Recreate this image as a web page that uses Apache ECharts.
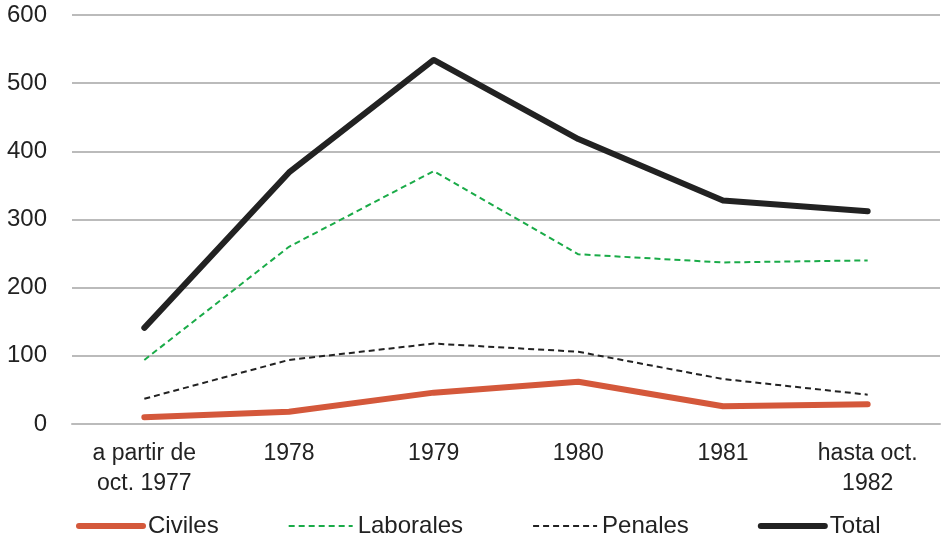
<!DOCTYPE html>
<html><head><meta charset="utf-8">
<script src="https://cdn.jsdelivr.net/npm/echarts@6/dist/echarts.min.js"></script>
<style>html,body{margin:0;padding:0;background:#fff}#c{width:941px;height:539px}</style>
</head><body><div id="c"></div>
<script>
const categories = ['a partir de\noct. 1977', '1978', '1979', '1980', '1981', 'hasta oct.\n1982'];
const civiles = [10, 18, 46, 62, 26, 29];
const laborales = [94, 260, 371, 249, 237, 240];
const penales = [37, 94, 118, 106, 66, 43];
const total = [141, 369, 534, 418, 328, 312];
const yTicks = [0, 100, 200, 300, 400, 500, 600];

const font = 'Liberation Sans, Arial, sans-serif';
const chart = echarts.init(document.getElementById('c'));
chart.setOption({
  animation: false,
  textStyle: { fontFamily: font },
  grid: { left: 72, right: 1, top: 15, bottom: 115 },
  legend: {
    bottom: -4, left: 71,
    itemWidth: 64, itemHeight: 14, itemGap: 69,
    itemStyle: { opacity: 0 },
    textStyle: { fontSize: 24, color: '#222', fontFamily: font },
    data: [
      { name: 'Civiles', lineStyle: { width: 6 } },
      { name: 'Laborales', lineStyle: { width: 2 } },
      { name: 'Penales', lineStyle: { width: 2 } },
      { name: 'Total', lineStyle: { width: 6 } }
    ]
  },
  xAxis: {
    type: 'category', data: categories, boundaryGap: true,
    axisLine: { show: true, lineStyle: { color: '#bbb', width: 2 } },
    axisTick: { show: false },
    axisLabel: { fontSize: 23, color: '#222', margin: 15, lineHeight: 30, interval: 0 }
  },
  yAxis: {
    type: 'value', min: yTicks[0], max: yTicks[yTicks.length - 1], interval: 100,
    axisLine: { show: false }, axisTick: { show: false },
    splitLine: { lineStyle: { color: '#bbb', width: 2 } },
    axisLabel: { fontSize: 24, color: '#222', margin: 25 }
  },
  series: [
    { name: 'Civiles', type: 'line', data: civiles, symbol: 'none', color: '#d4583b',
      lineStyle: { width: 6, color: '#d4583b', cap: 'round', join: 'round' } },
    { name: 'Laborales', type: 'line', data: laborales, symbol: 'none', color: '#1aab48',
      lineStyle: { width: 2, color: '#1aab48', type: [6, 4] } },
    { name: 'Penales', type: 'line', data: penales, symbol: 'none', color: '#222',
      lineStyle: { width: 2, color: '#222', type: [6, 4] } },
    { name: 'Total', type: 'line', data: total, symbol: 'none', color: '#222',
      lineStyle: { width: 6, color: '#222', cap: 'round', join: 'round' } }
  ]
});
</script></body></html>
